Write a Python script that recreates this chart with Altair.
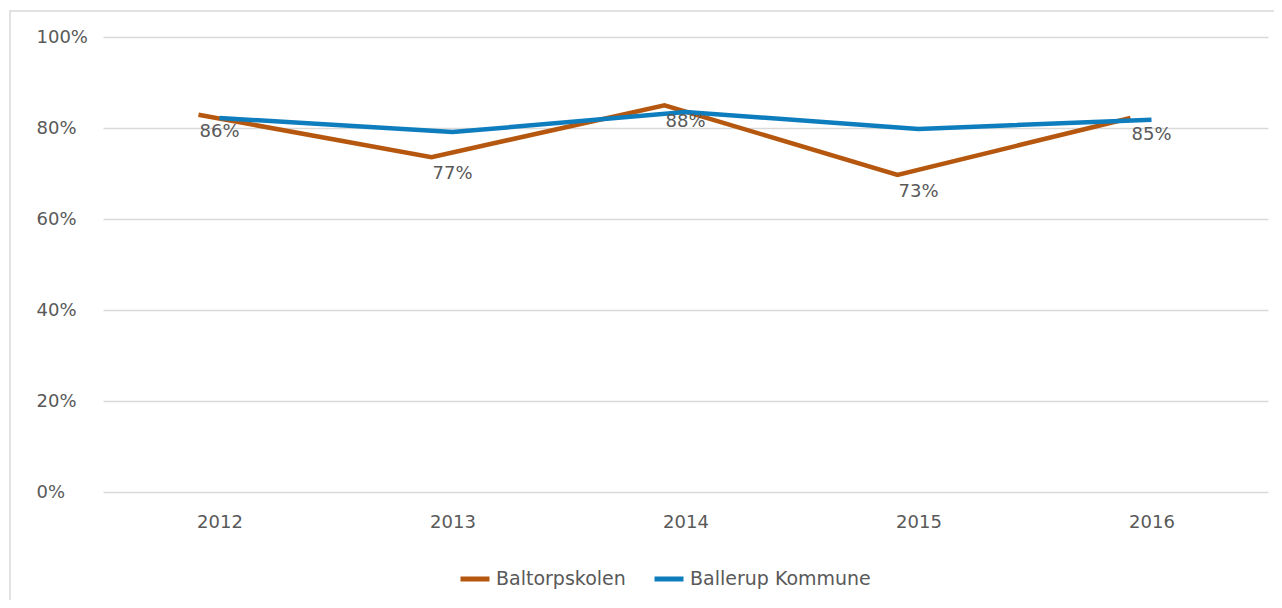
import altair as alt
import pandas as pd

years = ["2012", "2013", "2014", "2015", "2016"]
baltorp = [0.829, 0.736, 0.850, 0.697, 0.822]
ballerup = [0.822, 0.791, 0.835, 0.798, 0.818]
labels = ["86%", "77%", "88%", "73%", "85%"]
series = ["Baltorpskolen", "Ballerup Kommune"]
colors = ["#B5570F", "#0E7DBD"]

FONT = "DejaVu Sans"
GREY = "#595959"

rows = []
for y, v in zip(years, baltorp):
    rows.append({"Year": y, "Value": v, "Series": series[0]})
for y, v in zip(years, ballerup):
    rows.append({"Year": y, "Value": v, "Series": series[1]})
df = pd.DataFrame(rows)
lab_df = pd.DataFrame({"Year": years, "Value": baltorp, "Label": labels})

x_enc = alt.X("Year:O", scale=alt.Scale(type="point", padding=0.5),
              axis=alt.Axis(title=None, labelAngle=0, domain=False, ticks=False,
                            grid=False, labelFont=FONT, labelFontSize=18,
                            labelColor=GREY, labelPadding=21))
y_enc = alt.Y("Value:Q", scale=alt.Scale(domain=[0, 1]),
              axis=alt.Axis(title=None, format=".0%", values=[0, 0.2, 0.4, 0.6, 0.8, 1.0],
                            domain=False, ticks=False, gridColor="#D9D9D9", gridWidth=1.5,
                            labelFont=FONT, labelFontSize=18, labelColor=GREY,
                            labelAlign="left", labelPadding=67))
color_enc = alt.Color("Series:N", scale=alt.Scale(domain=series, range=colors),
                      legend=alt.Legend(title=None, orient="none", legendX=355, legendY=525,
                                        direction="horizontal", symbolType="stroke",
                                        symbolSize=841, symbolStrokeWidth=5,
                                        labelFont=FONT, labelFontSize=19, labelColor=GREY,
                                        labelOffset=4, columnPadding=18, labelLimit=400))

border = alt.Chart(pd.DataFrame({"a": [0]})).mark_rect(
    fill=None, stroke="#D9D9D9", strokeWidth=1.5
).encode(x=alt.value(-93), x2=alt.value(1190), y=alt.value(-26), y2=alt.value(600))

blue = alt.Chart(df[df["Series"] == series[1]]).mark_line(strokeWidth=4.5).encode(
    x=x_enc, y=y_enc, color=color_enc)
brown = alt.Chart(df[df["Series"] == series[0]]).mark_line(strokeWidth=4.5).encode(
    x=x_enc, y=y_enc, color=color_enc, xOffset=alt.value(-21))
text = alt.Chart(lab_df).mark_text(font=FONT, fontSize=18, color=GREY, dy=17).encode(
    x=x_enc, y=y_enc, text="Label:N")

chart = alt.layer(border, brown, blue, text).properties(
    width=1165, height=455,
    autosize=alt.AutoSizeParams(type="none"),
    padding={"left": 95, "top": 29, "right": 6, "bottom": 108},
).configure_view(stroke=None)

chart.save("out.html", embed_options={"renderer": "svg", "actions": False})
